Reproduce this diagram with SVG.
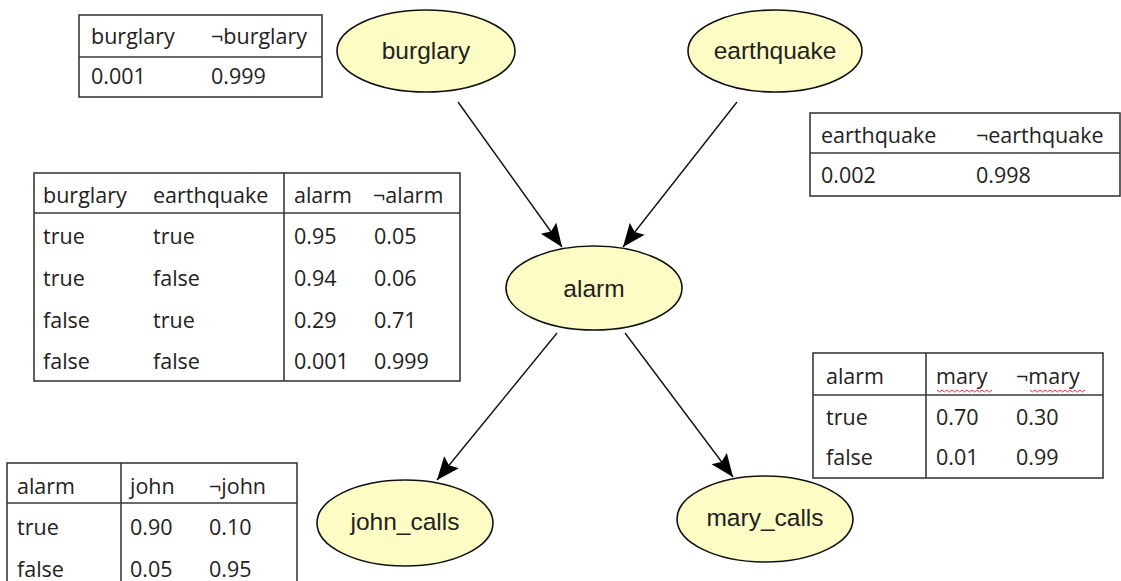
<svg xmlns="http://www.w3.org/2000/svg" width="1121" height="581" viewBox="0 0 1121 581">
<style>
.tb{fill:#fff;stroke:#3a3a3a;stroke-width:1.6}
.ln{stroke:#3a3a3a;stroke-width:1.6;fill:none}
.tt{font-family:"Open Sans","Liberation Sans",sans-serif;font-size:21.5px;fill:#222}
.nd{fill:#fdfcc4;stroke:#111;stroke-width:1.6}
.nl{font-family:"Liberation Sans",Arial,sans-serif;font-size:24.5px;fill:#222;text-anchor:middle}
.ed{stroke:#111;stroke-width:1.4;fill:none;marker-end:url(#ah)}
.sq{stroke:#e03030;stroke-width:1;fill:none}
</style>
<defs>
<marker id="ah" markerUnits="userSpaceOnUse" markerWidth="30" markerHeight="26" viewBox="-25 -13 27 26" refX="0" refY="0" orient="auto">
<path d="M0,0 L-23,-9.5 L-19,0 L-23,9.5 Z" fill="#000"/>
</marker>
</defs>
<rect width="1121" height="581" fill="#fff"/>

<g id="cpt-burglary">
<rect class="tb" x="79" y="15" width="243" height="82"/>
<line class="ln" x1="79" y1="57" x2="322" y2="57"/>
<text class="tt" x="91" y="44">burglary</text>
<text class="tt" x="211" y="44">¬burglary</text>
<text class="tt" x="91" y="84">0.001</text>
<text class="tt" x="211" y="84">0.999</text>
</g>

<g id="cpt-earthquake">
<rect class="tb" x="810" y="113" width="310" height="83"/>
<line class="ln" x1="810" y1="153" x2="1120" y2="153"/>
<text class="tt" x="821" y="143">earthquake</text>
<text class="tt" x="976" y="143">¬earthquake</text>
<text class="tt" x="821" y="183">0.002</text>
<text class="tt" x="976" y="183">0.998</text>
</g>

<g id="cpt-alarm">
<rect class="tb" x="34" y="173" width="426" height="208"/>
<line class="ln" x1="34" y1="213" x2="460" y2="213"/>
<line class="ln" x1="284" y1="173" x2="284" y2="381"/>
<text class="tt" x="43" y="203">burglary</text>
<text class="tt" x="153" y="203">earthquake</text>
<text class="tt" x="294" y="203">alarm</text>
<text class="tt" x="373" y="203">¬alarm</text>
<text class="tt" x="43" y="244">true</text>
<text class="tt" x="153" y="244">true</text>
<text class="tt" x="294" y="244">0.95</text>
<text class="tt" x="374" y="244">0.05</text>
<text class="tt" x="43" y="286">true</text>
<text class="tt" x="153" y="286">false</text>
<text class="tt" x="294" y="286">0.94</text>
<text class="tt" x="374" y="286">0.06</text>
<text class="tt" x="43" y="328">false</text>
<text class="tt" x="153" y="328">true</text>
<text class="tt" x="294" y="328">0.29</text>
<text class="tt" x="374" y="328">0.71</text>
<text class="tt" x="43" y="369">false</text>
<text class="tt" x="153" y="369">false</text>
<text class="tt" x="294" y="369">0.001</text>
<text class="tt" x="374" y="369">0.999</text>
</g>

<g id="cpt-mary">
<rect class="tb" x="813" y="353" width="290" height="125"/>
<line class="ln" x1="813" y1="395" x2="1103" y2="395"/>
<line class="ln" x1="926" y1="353" x2="926" y2="478"/>
<text class="tt" x="826" y="384">alarm</text>
<text class="tt" x="936" y="384">mary</text>
<text class="tt" x="1016" y="384">¬mary</text>
<path class="sq" d="M937,390 l2.5,2 l2.5,-2 l2.5,2 l2.5,-2 l2.5,2 l2.5,-2 l2.5,2 l2.5,-2 l2.5,2 l2.5,-2 l2.5,2 l2.5,-2 l2.5,2 l2.5,-2 l2.5,2 l2.5,-2 l2.5,2 l2.5,-2 l2.5,2 l2.5,-2 l2.5,2 l2.5,-2"/>
<path class="sq" d="M1030,390 l2.5,2 l2.5,-2 l2.5,2 l2.5,-2 l2.5,2 l2.5,-2 l2.5,2 l2.5,-2 l2.5,2 l2.5,-2 l2.5,2 l2.5,-2 l2.5,2 l2.5,-2 l2.5,2 l2.5,-2 l2.5,2 l2.5,-2 l2.5,2 l2.5,-2 l2.5,2 l2.5,-2"/>
<text class="tt" x="826" y="425">true</text>
<text class="tt" x="936" y="425">0.70</text>
<text class="tt" x="1016" y="425">0.30</text>
<text class="tt" x="826" y="465">false</text>
<text class="tt" x="936" y="465">0.01</text>
<text class="tt" x="1016" y="465">0.99</text>
</g>

<g id="cpt-john">
<rect class="tb" x="7" y="463" width="290" height="130"/>
<line class="ln" x1="7" y1="503" x2="297" y2="503"/>
<line class="ln" x1="121" y1="463" x2="121" y2="593"/>
<text class="tt" x="17" y="494">alarm</text>
<text class="tt" x="130" y="494">john</text>
<text class="tt" x="209" y="494">¬john</text>
<text class="tt" x="17" y="535">true</text>
<text class="tt" x="130" y="535">0.90</text>
<text class="tt" x="209" y="535">0.10</text>
<text class="tt" x="17" y="577">false</text>
<text class="tt" x="130" y="577">0.05</text>
<text class="tt" x="209" y="577">0.95</text>
</g>

<g id="edges">
<line class="ed" x1="458" y1="102" x2="562" y2="247"/>
<line class="ed" x1="737" y1="102" x2="623" y2="247"/>
<line class="ed" x1="557" y1="333" x2="437" y2="480"/>
<line class="ed" x1="625" y1="333" x2="733" y2="477"/>
</g>

<g id="node-burglary">
<ellipse class="nd" cx="426" cy="51" rx="89" ry="41"/>
<text class="nl" x="426" y="59">burglary</text>
</g>
<g id="node-earthquake">
<ellipse class="nd" cx="775" cy="51" rx="87" ry="41"/>
<text class="nl" x="775" y="59">earthquake</text>
</g>
<g id="node-alarm">
<ellipse class="nd" cx="594" cy="288" rx="88" ry="42"/>
<text class="nl" x="594" y="297">alarm</text>
</g>
<g id="node-john_calls">
<ellipse class="nd" cx="405" cy="523" rx="88" ry="43"/>
<text class="nl" x="405" y="530">john_calls</text>
</g>
<g id="node-mary_calls">
<ellipse class="nd" cx="765" cy="519" rx="88" ry="43"/>
<text class="nl" x="765" y="526">mary_calls</text>
</g>
</svg>
